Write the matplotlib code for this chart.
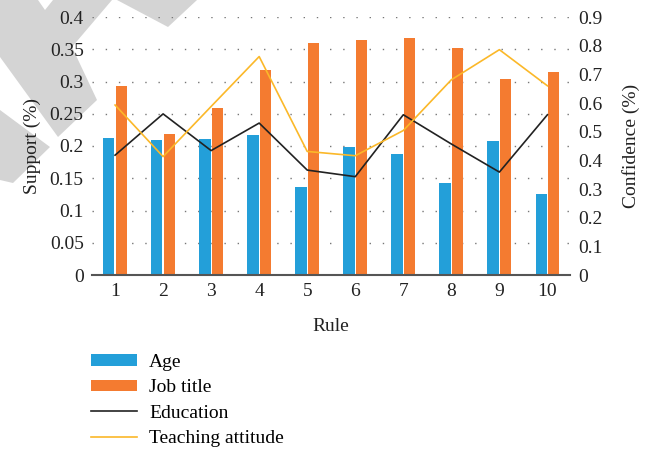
import matplotlib
matplotlib.use("Agg")
import matplotlib.pyplot as plt
import numpy as np
from matplotlib.patches import Polygon, Patch
from matplotlib.lines import Line2D

plt.rcParams["font.family"] = ["Liberation Serif", "DejaVu Serif"]

rules = ["1", "2", "3", "4", "5", "6", "7", "8", "9", "10"]
age = [0.213, 0.210, 0.211, 0.217, 0.137, 0.199, 0.188, 0.143, 0.208, 0.126]
job_title = [0.293, 0.219, 0.259, 0.318, 0.359, 0.365, 0.368, 0.352, 0.304, 0.315]
education = [0.418, 0.562, 0.434, 0.530, 0.366, 0.343, 0.559, 0.457, 0.359, 0.559]
teaching = [0.593, 0.413, 0.588, 0.762, 0.431, 0.416, 0.504, 0.681, 0.786, 0.660]

support_ticks = [0, 0.05, 0.1, 0.15, 0.2, 0.25, 0.3, 0.35, 0.4]
support_labels = ["0", "0.05", "0.1", "0.15", "0.2", "0.25", "0.3", "0.35", "0.4"]
conf_ticks = [0, 0.1, 0.2, 0.3, 0.4, 0.5, 0.6, 0.7, 0.8, 0.9]
conf_labels = ["0", "0.1", "0.2", "0.3", "0.4", "0.5", "0.6", "0.7", "0.8", "0.9"]

BLUE = "#239fd9"
ORANGE = "#f47b30"
YELLOW = "#fbb829"
BLACK = "#222222"
FS = 14

W, H = 649, 450
fig = plt.figure(figsize=(W / 100, H / 100), dpi=100)


def px(pts):
    return [(x / W, 1 - y / H) for x, y in pts]


# light grey corner decoration
shapes = [
    [(0, 0), (38, 0), (45, 10), (53, 0), (112, 0), (72, 47), (97, 100),
     (58, 137), (0, 57)],
    [(0, 110), (50, 147), (13, 183), (0, 180)],
    [(117, 0), (197, 0), (168, 27)],
]
for s in shapes:
    fig.patches.append(Polygon(px(s), closed=True, transform=fig.transFigure,
                               facecolor="#d4d4d4", edgecolor="none", zorder=-5))

ax = fig.add_axes([92 / W, 1 - 275 / H, (570 - 92) / W, (275 - 17) / H])
ax.patch.set_alpha(0)
x = np.arange(1, len(rules) + 1)
bw = 0.235
ax.bar(x - 0.13, age, bw, color=BLUE, zorder=2)
ax.bar(x + 0.13, job_title, bw, color=ORANGE, zorder=2)
ax.set_xlim(0.52, 10.47)
ax.set_ylim(0, 0.4)
ax.set_xticks(x)
ax.set_xticklabels(rules)
ax.set_yticks(support_ticks)
ax.set_yticklabels(support_labels)
ax.yaxis.grid(True, linestyle=(0, (1, 8.5)), color="#777777", linewidth=1)
ax.set_axisbelow(True)
for side in ["left", "right", "top"]:
    ax.spines[side].set_visible(False)
ax.spines["bottom"].set_color("#555555")
ax.spines["bottom"].set_linewidth(1.5)
ax.tick_params(length=0, labelsize=FS, colors="#222222", pad=6)
ax.set_xlabel("Rule", fontsize=FS, color="#222222", labelpad=13)
ax.set_ylabel("Support (%)", fontsize=FS, color="#222222", labelpad=6)

ax2 = ax.twinx()
ax2.plot(x, education, color=BLACK, linewidth=1.2, zorder=3)
ax2.plot(x, teaching, color=YELLOW, linewidth=1.2, zorder=3)
ax2.set_ylim(0, 0.9)
ax2.set_yticks(conf_ticks)
ax2.set_yticklabels(conf_labels)
for side in ["left", "right", "top", "bottom"]:
    ax2.spines[side].set_visible(False)
ax2.tick_params(length=0, labelsize=FS, colors="#222222", pad=6)
ax2.set_ylabel("Confidence (%)", fontsize=FS, color="#222222", labelpad=14)

handles = [
    Patch(facecolor=BLUE, edgecolor="none"),
    Patch(facecolor=ORANGE, edgecolor="none"),
    Line2D([], [], color=BLACK, linewidth=1.2),
    Line2D([], [], color=YELLOW, linewidth=1.2),
]
labels = ["Age", "Job title", "Education", "Teaching attitude"]
fig.legend(handles, labels, loc="upper left", bbox_to_anchor=(81 / W, 1 - 344 / H),
           frameon=False, fontsize=FS, handlelength=2.4, handleheight=0.55,
           labelspacing=0.44, handletextpad=0.6, borderpad=0)

fig.savefig("out.png", dpi=100)
